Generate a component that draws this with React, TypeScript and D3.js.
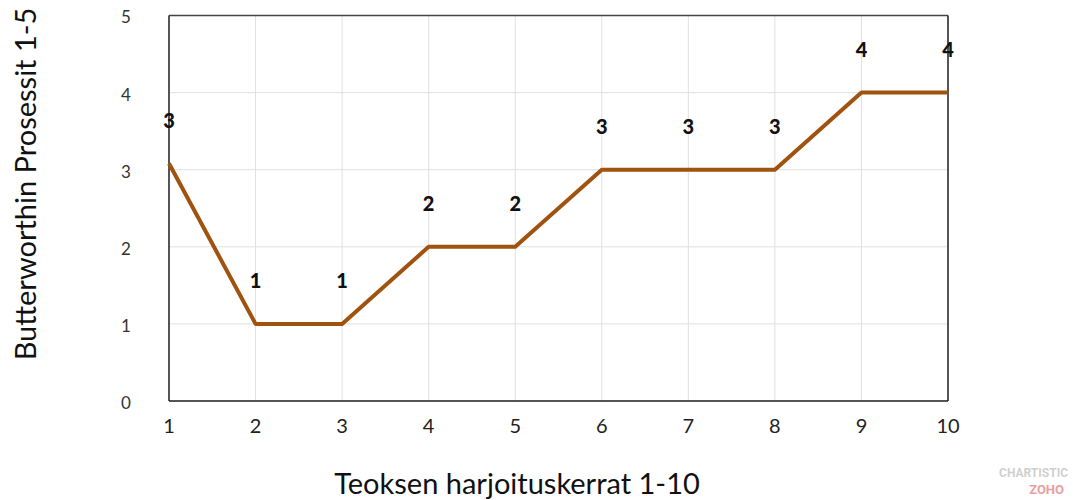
import React from "react";
import * as d3 from "d3";

const sessions = [1, 2, 3, 4, 5, 6, 7, 8, 9, 10];
const values = [3.08, 1, 1, 2, 2, 3, 3, 3, 4, 4];
const labels = ["3", "1", "1", "2", "2", "3", "3", "3", "4", "4"];
const yTicks = [0, 1, 2, 3, 4, 5];

const W = 1073, H = 500;
const M = { left: 169, right: 948, top: 15.5, bottom: 401 };

export default function App() {
  const x = d3.scaleLinear().domain([1, 10]).range([M.left, M.right]);
  const y = d3.scaleLinear().domain([0, 5]).range([M.bottom, M.top]);
  const line = d3.line<number>().x((_, i) => x(sessions[i])).y((d) => y(d));
  const font = "Lato, 'Open Sans', sans-serif";
  return (
    <svg width={W} height={H} style={{ position: "absolute", left: 0, top: 0, background: "#fff" }} fontFamily={font}>
      {yTicks.map((t) => (
        <line key={"gy" + t} x1={M.left} x2={M.right} y1={y(t)} y2={y(t)} stroke="#e0e0e0" strokeWidth={1} />
      ))}
      {sessions.map((s) => (
        <line key={"gx" + s} x1={x(s)} x2={x(s)} y1={M.top} y2={M.bottom} stroke="#e0e0e0" strokeWidth={1} />
      ))}
      <line x1={M.left} x2={M.right} y1={M.top} y2={M.top} stroke="#444" strokeWidth={1.5} />
      <line x1={M.right} x2={M.right} y1={M.top} y2={M.bottom} stroke="#222" strokeWidth={1.5} />
      <line x1={M.left} x2={M.left} y1={M.top} y2={M.bottom} stroke="#222" strokeWidth={1.5} />
      <line x1={M.left} x2={M.right} y1={M.bottom} y2={M.bottom} stroke="#222" strokeWidth={1.5} />
      <path d={line(values) || ""} fill="none" stroke="#a0520f" strokeWidth={4} strokeLinejoin="round" />
      {values.map((v, i) => (
        <text key={"l" + i} x={x(sessions[i])} y={y(v) - 36} textAnchor="middle" fontSize={20} fontWeight={900} fill="#111">
          {labels[i]}
        </text>
      ))}
      {yTicks.map((t) => (
        <text key={"ty" + t} x={126} y={y(t) + 2} dy="0.35em" textAnchor="middle" fontSize={17} fill="#333">
          {t}
        </text>
      ))}
      {sessions.map((s) => (
        <text key={"tx" + s} x={x(s)} y={426} dy="0.35em" textAnchor="middle" fontSize={20} fill="#222">
          {s}
        </text>
      ))}
      <text x={517} y={484} dy="0.35em" textAnchor="middle" fontSize={29} fill="#111">
        Teoksen harjoituskerrat 1-10
      </text>
      <text transform={`translate(26,184) rotate(-90)`} dy="0.35em" textAnchor="middle" fontSize={29} fill="#111">
        Butterworthin Prosessit 1-5
      </text>
      <text x={1068} y={477} textAnchor="end" fontSize={12} fontWeight={700} fill="#d0d0d0" fontFamily="Roboto, sans-serif">
        CHARTISTIC
      </text>
      <text x={1064} y={494} textAnchor="end" fontSize={13} fontWeight={700} fill="#e8a0a0" fontFamily="Roboto, sans-serif">
        ZOHO
      </text>
    </svg>
  );
}
